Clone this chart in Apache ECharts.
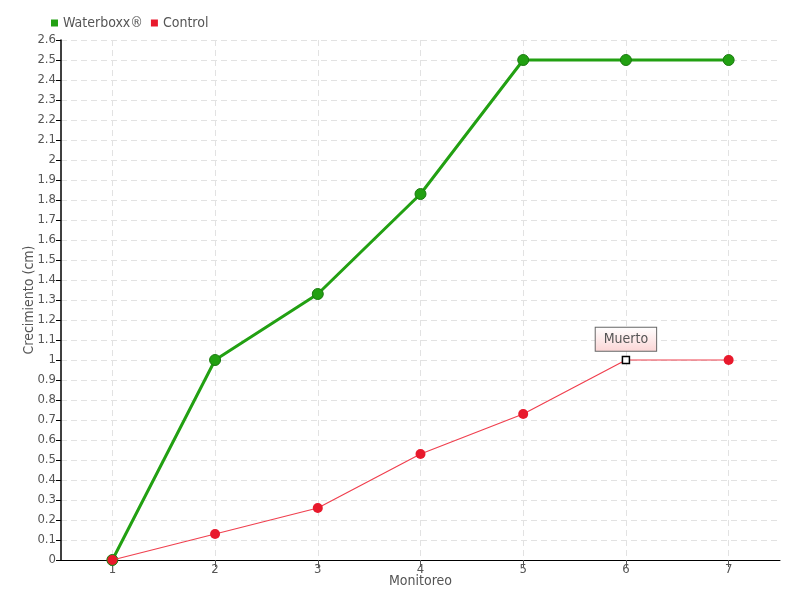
<!DOCTYPE html>
<html><head><meta charset="utf-8">
<script src="https://cdn.jsdelivr.net/npm/echarts@6/dist/echarts.min.js"></script>
<style>html,body{margin:0;padding:0;background:#fff}#c{width:800px;height:600px}</style>
</head><body><div id="c"></div>
<script>
var categories = ['1','2','3','4','5','6','7'];
var waterboxx = [0, 1.0, 1.33, 1.83, 2.5, 2.5, 2.5];
var control = [0, 0.13, 0.26, 0.53, 0.73, 1.0, 1.0];
var annotationIndex = 5;
var annotationText = 'Muerto';
var FONT = "'DejaVu Sans Condensed', 'Liberation Sans Narrow', sans-serif";

var controlData = control.map(function (v, i) {
  if (i === annotationIndex) {
    return {
      value: v, symbol: 'rect', symbolSize: 7,
      itemStyle: { color: '#fff', borderColor: '#000', borderWidth: 1.5 },
      label: {
        show: true, position: 'top', distance: 5, formatter: annotationText,
        fontFamily: FONT, fontSize: 14, color: '#555',
        backgroundColor: { type: 'linear', x: 0, y: 0, x2: 0, y2: 1,
          colorStops: [{ offset: 0, color: '#ffffff' }, { offset: 1, color: '#fbd5d5' }] },
        borderColor: '#666', borderWidth: 1, padding: [5, 8, 4, 8]
      }
    };
  }
  return v;
});

var chart = echarts.init(document.getElementById('c'));
chart.setOption({
  animation: false,
  textStyle: { fontFamily: FONT },
  legend: {
    left: 46, top: 11, itemWidth: 7, itemHeight: 7, itemGap: 8,
    textStyle: { fontFamily: FONT, fontSize: 14, color: '#555' },
    itemStyle: { borderWidth: 0 },
    data: [
      { name: 'Waterboxx®', icon: 'rect' },
      { name: 'Control', icon: 'rect' }
    ]
  },
  grid: { left: 61, right: 20, top: 40, bottom: 40 },
  xAxis: {
    type: 'category', data: categories, boundaryGap: true,
    name: 'Monitoreo', nameLocation: 'middle', nameGap: 14, nameMoveOverlap: false,
    nameTextStyle: { fontFamily: FONT, fontSize: 14, color: '#555' },
    axisLine: { lineStyle: { color: '#000', width: 1 } },
    axisTick: { show: true, alignWithLabel: true, length: 7, lineStyle: { color: '#555' } },
    axisLabel: { show: true, margin: 3, fontFamily: FONT, fontSize: 13, color: '#555' },
    splitLine: { show: true, alignWithLabel: true, lineStyle: { color: '#e2e2e2', type: [6, 4] } }
  },
  yAxis: {
    type: 'value', min: 0, max: 2.6, interval: 0.1,
    name: 'Crecimiento (cm)', nameLocation: 'middle', nameGap: 25, nameMoveOverlap: false,
    nameTextStyle: { fontFamily: FONT, fontSize: 14, color: '#555' },
    axisLine: { show: true, lineStyle: { color: '#000', width: 1.5 } },
    axisTick: { show: true, length: 5, lineStyle: { color: '#000' } },
    axisLabel: {
      margin: 5, fontFamily: FONT, fontSize: 13, color: '#555',
      formatter: function (v) { return String(Math.round(v * 10) / 10); }
    },
    splitLine: { show: true, lineStyle: { color: '#e2e2e2', type: [6, 4] } }
  },
  series: [
    {
      name: 'Waterboxx®', type: 'line', data: waterboxx,
      symbol: 'circle', symbolSize: 11,
      lineStyle: { color: '#22a012', width: 3 },
      itemStyle: { color: '#22a012', borderColor: '#1a7a10', borderWidth: 1 },
      color: '#22a012', z: 2
    },
    {
      name: 'Control', type: 'line', data: controlData,
      symbol: 'circle', symbolSize: 10,
      lineStyle: { color: '#f0404f', width: 1.2 },
      itemStyle: { color: '#e8192c' },
      color: '#e8192c', z: 3
    }
  ]
});
</script></body></html>
